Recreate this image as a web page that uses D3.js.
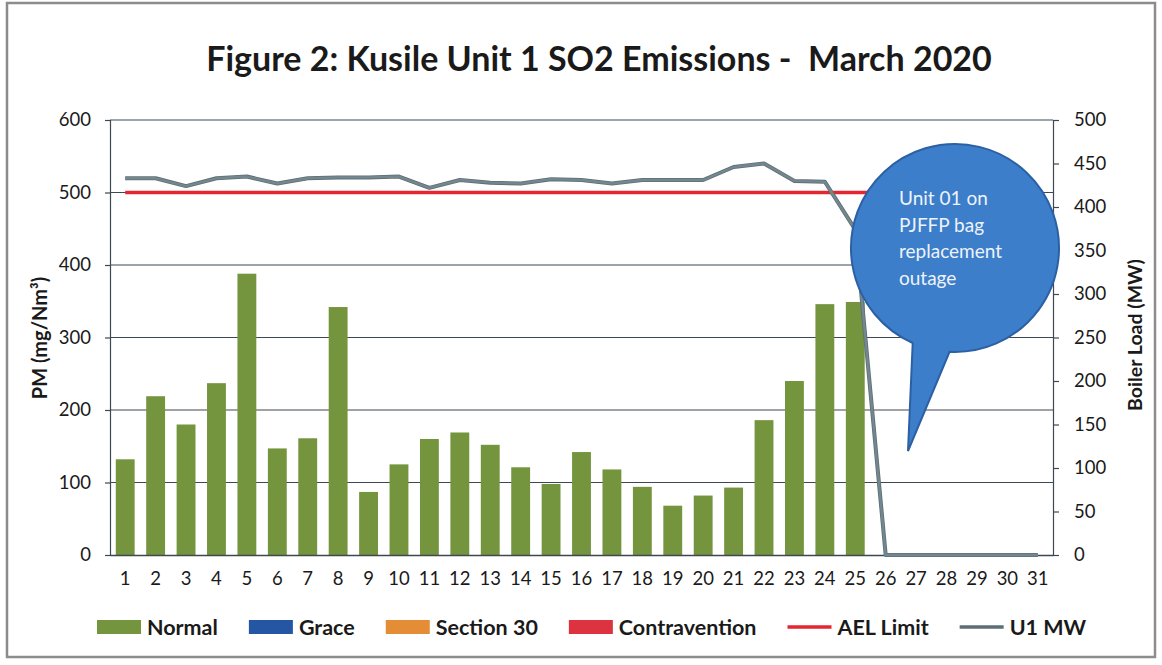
<!DOCTYPE html>
<html>
<head>
<meta charset="utf-8">
<script src="https://cdn.jsdelivr.net/npm/d3@7"></script>
<style>
  body { margin: 0; background: #fff; }
  svg { display: block; font-family: Lato, "Open Sans", sans-serif; }
</style>
</head>
<body>
<div id="chart"></div>
<script>
// data
const days = d3.range(1, 32).map(String)
const normal = [132, 219, 180, 237, 388, 147, 161, 342, 87, 125, 160, 169, 152, 121, 98, 142, 118, 94, 68, 82, 93, 186, 240, 346, 349, 0, 0, 0, 0, 0, 0]
const grace = days.map(() => 0)
const section30 = days.map(() => 0)
const contravention = days.map(() => 0)
const aelLimit = days.map(() => 500)
const u1mw = [433, 433, 424, 433, 435, 427, 433, 434, 434, 435, 422, 431, 428, 427, 432, 431, 427, 431, 431, 431, 446, 450, 430, 429, 374, 0, 0, 0, 0, 0, 0]
const leftTicks = [0, 100, 200, 300, 400, 500, 600]
const rightTicks = [0, 50, 100, 150, 200, 250, 300, 350, 400, 450, 500]
const legendNames = ['Normal', 'Grace', 'Section 30', 'Contravention', 'AEL Limit', 'U1 MW']
const noteLines = ['Unit 01 on', 'PJFFP bag', 'replacement', 'outage']

const colors = {
    'Normal': '#74943e',
    'Grace': '#2456a3',
    'Section 30': '#e48d36',
    'Contravention': '#dd3341',
    'AEL Limit': '#e3262f',
    'U1 MW': '#74878e'
}

const width = 1162, height = 665
const plotLeft = 110, plotRight = 1053, plotTop = 120, plotBottom = 555

const svg = d3.select('#chart').append('svg')
    .attr('width', width)
    .attr('height', height)

svg.append('rect')
    .attr('x', 7).attr('y', 3)
    .attr('width', 1148).attr('height', 654)
    .attr('fill', '#fff')
    .attr('stroke', '#8c8c8c')
    .attr('stroke-width', 2.5)

svg.append('text')
    .attr('x', 599).attr('y', 71)
    .attr('text-anchor', 'middle')
    .style('white-space', 'pre')
    .style('font-weight', 'bold')
    .style('font-size', '34px')
    .attr('fill', '#1a1a1a')
    .text('Figure 2: Kusile Unit 1 SO2 Emissions -  March 2020')

const x = d3.scaleBand().domain(days).range([plotLeft, plotRight]).paddingInner(0.38).paddingOuter(0.19)
const yL = d3.scaleLinear().domain([0, 600]).range([plotBottom, plotTop])
const yR = d3.scaleLinear().domain([0, 500]).range([plotBottom, plotTop])

// gridlines
svg.append('g')
    .selectAll('line')
    .data(leftTicks.filter(d => d > 0))
    .enter()
    .append('line')
        .attr('x1', plotLeft).attr('x2', plotRight)
        .attr('y1', d => yL(d)).attr('y2', d => yL(d))
        .attr('stroke', '#3d4850')
        .attr('stroke-width', 1.2)

// stacked bars (only Normal has values this month)
const rows = days.map((d, i) => ({ day: d, Normal: normal[i], Grace: grace[i], 'Section 30': section30[i], Contravention: contravention[i] }))
const stack = d3.stack().keys(['Normal', 'Grace', 'Section 30', 'Contravention'])(rows)

svg.append('g')
    .selectAll('g')
    .data(stack)
    .enter()
    .append('g')
    .attr('fill', d => colors[d.key])
    .selectAll('rect')
    .data(d => d)
    .enter()
    .append('rect')
        .attr('x', d => x(d.data.day))
        .attr('width', x.bandwidth())
        .attr('y', d => yL(d[1]))
        .attr('height', d => yL(d[0]) - yL(d[1]))

// axes
const axL = svg.append('g')
    .attr('transform', 'translate(' + plotLeft + ',0)')
    .call(d3.axisLeft(yL).tickValues(leftTicks).tickSize(5).tickPadding(14))
const axR = svg.append('g')
    .attr('transform', 'translate(' + plotRight + ',0)')
    .call(d3.axisRight(yR).tickValues(rightTicks).tickSize(6).tickPadding(15))
const axB = svg.append('g')
    .attr('transform', 'translate(0,' + plotBottom + ')')
    .call(d3.axisBottom(x).tickSize(0).tickPadding(17))

;[axL, axR, axB].forEach(ax => {
    ax.selectAll('path, line').attr('stroke', '#3d4850').attr('stroke-width', 1.2)
    ax.selectAll('text').style('font-size', '18.5px').attr('fill', '#1a1a1a').style('font-family', 'Lato, sans-serif')
})
axB.select('.domain').attr('stroke-width', 1.5)

// lines
const lineX = (d, i) => x(days[i]) + x.bandwidth() / 2

svg.append('path')
    .datum(aelLimit)
    .attr('fill', 'none')
    .attr('stroke', colors['AEL Limit'])
    .attr('stroke-width', 3.5)
    .attr('d', d3.line().x(lineX).y(d => yL(d)))

svg.append('path')
    .datum(u1mw)
    .attr('fill', 'none')
    .attr('stroke', '#5d6f76')
    .attr('stroke-width', 4)
    .attr('stroke-linejoin', 'round')
    .attr('d', d3.line().x(lineX).y(d => yR(d)))
svg.append('path')
    .datum(u1mw)
    .attr('fill', 'none')
    .attr('stroke', colors['U1 MW'])
    .attr('stroke-width', 2.4)
    .attr('stroke-linejoin', 'round')
    .attr('d', d3.line().x(lineX).y(d => yR(d)))

// axis titles
svg.append('text')
    .attr('transform', 'translate(47,338) rotate(-90)')
    .attr('text-anchor', 'middle')
    .style('font-weight', 'bold')
    .style('font-size', '20px')
    .attr('fill', '#1a1a1a')
    .text('PM (mg/Nm³)')
svg.append('text')
    .attr('transform', 'translate(1142,335) rotate(-90)')
    .attr('text-anchor', 'middle')
    .style('font-weight', 'bold')
    .style('font-size', '19.5px')
    .attr('fill', '#1a1a1a')
    .text('Boiler Load (MW)')

// callout bubble
const cx = 955, cy = 248, r = 104
const rad = a => a * Math.PI / 180
const bubble = d3.path()
bubble.moveTo(cx + r * Math.cos(rad(93)), cy + r * Math.sin(rad(93)))
bubble.arc(cx, cy, r, rad(93), rad(114), true)
bubble.lineTo(908, 451)
bubble.closePath()
svg.append('path')
    .attr('d', bubble.toString())
    .attr('fill', '#3c7ec9')
    .attr('stroke', '#2c60a4')
    .attr('stroke-width', 2)

svg.append('g')
    .selectAll('text')
    .data(noteLines)
    .enter()
    .append('text')
        .attr('x', 899)
        .attr('y', (d, i) => 205 + i * 26.5)
        .style('font-size', '19px')
        .attr('fill', '#eef3fb')
        .text(d => d)

// legend
const leg = svg.append('g').attr('transform', 'translate(0,627)')
let lx = 97
legendNames.forEach(name => {
    const isLine = name == 'AEL Limit' || name == 'U1 MW'
    if (isLine) {
        leg.append('line')
            .attr('x1', lx).attr('x2', lx + 44)
            .attr('stroke', name == 'U1 MW' ? '#5d6f76' : colors[name])
            .attr('stroke-width', 3.5)
    } else {
        leg.append('rect')
            .attr('x', lx).attr('y', -7)
            .attr('width', 44).attr('height', 14)
            .attr('fill', colors[name])
    }
    const t = leg.append('text')
        .attr('x', lx + 50).attr('y', 7.5)
        .style('font-weight', 'bold')
        .style('font-size', '21.5px')
        .attr('fill', '#1a1a1a')
        .text(name)
    lx += 50 + t.node().getComputedTextLength() + 31
})
</script>
</body>
</html>
